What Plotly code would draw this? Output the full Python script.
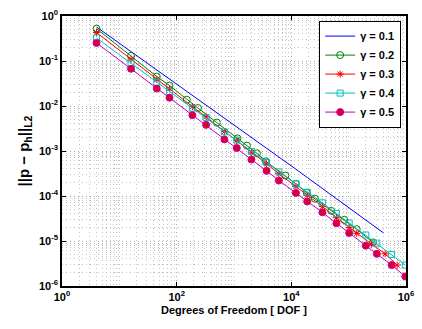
import plotly.graph_objects as go

# ---- data ----
dof_01 = [4, 16, 45, 75, 188, 326, 679, 1117, 2014, 3698, 6067, 12023, 18923, 34834, 61094, 102093, 199067, 404576]
err_01 = [0.570, 0.162, 0.0638, 0.0407, 0.01778, 0.01072, 5.52e-3, 3.51e-3, 2.04e-3, 1.169e-3, 7.41e-4,
          3.94e-4, 2.58e-4, 1.469e-4, 8.71e-5, 5.42e-5, 2.92e-5, 1.514e-5]

dof_02 = [4, 16, 45, 75, 150, 235, 502, 1148, 1683, 2512, 3597, 7889, 12023, 18535, 25704, 49659, 83753, 138038, 265461]
err_02 = [0.5236, 0.130, 0.0451, 0.0285, 0.0138, 9.02e-3, 4.27e-3, 1.905e-3, 1.318e-3, 8.91e-4, 5.89e-4,
          2.85e-4, 1.862e-4, 1.175e-4, 8.71e-5, 4.68e-5, 2.95e-5, 1.832e-5, 9.29e-6]

dof_03 = [4, 16, 45, 75, 188, 326, 679, 1117, 2014, 3698, 6067, 12023, 18923, 34834, 61094, 102093,
          138038, 251189, 432514, 701455]
err_03 = [0.4285, 0.1102, 0.0390, 0.0241, 9.66e-3, 5.79e-3, 2.70e-3, 1.722e-3, 9.40e-4, 5.19e-4, 3.12e-4,
          1.633e-4, 1.042e-4, 5.87e-5, 3.30e-5, 1.986e-5, 1.479e-5, 8.51e-6, 5.19e-6, 2.91e-6]

dof_04 = [4, 16, 45, 75, 188, 326, 679, 1117, 2014, 3698, 6067, 12023, 18923, 34834, 61094, 102093,
          199067, 310456, 561048, 972747]
err_04 = [0.325, 0.0897, 0.0335, 0.0212, 8.93e-3, 5.51e-3, 2.66e-3, 1.742e-3, 9.77e-4, 5.57e-4, 3.44e-4,
          1.858e-4, 1.213e-4, 7.06e-5, 4.09e-5, 2.52e-5, 1.361e-5, 8.97e-6, 5.04e-6, 2.91e-6]

dof_05 = [4, 16, 45, 75, 188, 326, 679, 1117, 2014, 3698, 6067, 12023, 18923, 34834, 61094, 102093,
          199067, 310456, 561048, 972747]
err_05 = [0.2523, 0.06714, 0.02438, 0.01528, 6.266e-3, 3.811e-3, 1.807e-3, 1.167e-3, 6.457e-4, 3.622e-4,
          2.203e-4, 1.172e-4, 7.568e-5, 4.335e-5, 2.472e-5, 1.503e-5, 7.87e-6, 5.19e-6, 2.91e-6, 1.63e-6]

names = ["γ = 0.1", "γ = 0.2", "γ = 0.3", "γ = 0.4", "γ = 0.5"]

x_tickvals = [1, 1e2, 1e4, 1e6]
x_ticktext = ["10<sup>0</sup>", "10<sup>2</sup>", "10<sup>4</sup>", "10<sup>6</sup>"]
y_tickvals = [1, 1e-1, 1e-2, 1e-3, 1e-4, 1e-5, 1e-6]
y_ticktext = ["10<sup>0</sup>", "10<sup>-1</sup>", "10<sup>-2</sup>", "10<sup>-3</sup>",
              "10<sup>-4</sup>", "10<sup>-5</sup>", "10<sup>-6</sup>"]

FONT = "Liberation Sans, Arial, sans-serif"

fig = go.Figure()
fig.add_trace(go.Scatter(x=dof_01, y=err_01, mode="lines", name=names[0],
                         line=dict(color="#0000FF", width=1)))
fig.add_trace(go.Scatter(x=dof_02, y=err_02, mode="lines+markers", name=names[1],
                         line=dict(color="#008000", width=1),
                         marker=dict(symbol="circle-open", size=7, color="#008000", line=dict(width=1))))
fig.add_trace(go.Scatter(x=dof_03, y=err_03, mode="lines+markers", name=names[2],
                         line=dict(color="#FF0000", width=1),
                         marker=dict(symbol="asterisk-open", size=6, color="#FF0000", line=dict(width=1, color="#FF0000"))))
fig.add_trace(go.Scatter(x=dof_04, y=err_04, mode="lines+markers", name=names[3],
                         line=dict(color="#00BFBF", width=1),
                         marker=dict(symbol="square-open", size=6, color="#00BFBF", line=dict(width=1))))
fig.add_trace(go.Scatter(x=dof_05, y=err_05, mode="lines+markers", name=names[4],
                         line=dict(color="#BF00BF", width=1),
                         marker=dict(symbol="circle", size=7, color="#DD0022", line=dict(width=1, color="#BF00BF"))))

minor_x = [k * 10 ** n for n in range(0, 6) for k in range(1, 10)] + [1e6]
minor_y = [k * 10.0 ** n for n in range(-6, 0) for k in range(1, 10)] + [1]

GRID = "#c4c4c4"
DASH = "1px,3px"

axis_common = dict(
    showline=True, linecolor="black", linewidth=1.5, mirror="allticks",
    ticks="inside", ticklen=4, tickcolor="black", tickwidth=1,
    showgrid=True, gridcolor="#a8a8a8", griddash=DASH, gridwidth=1,
    zeroline=False,
    tickfont=dict(family=FONT, size=11, color="black", weight="bold"),
)

fig.update_xaxes(type="log", range=[0, 6], tickvals=x_tickvals, ticktext=x_ticktext,
                 minor=dict(tickvals=minor_x, showgrid=True, gridcolor=GRID, griddash=DASH,
                            gridwidth=1, ticks=""),
                 title=dict(text="Degrees of Freedom [ DOF ]", standoff=4,
                            font=dict(family=FONT, size=11, color="black", weight="bold")),
                 **axis_common)
fig.update_yaxes(type="log", range=[-6, 0], tickvals=y_tickvals, ticktext=y_ticktext,
                 minor=dict(tickvals=minor_y, showgrid=True, gridcolor=GRID, griddash=DASH,
                            gridwidth=1, ticks=""),
                 title=dict(text="||p − p<sub>h</sub>||<sub>L2</sub>", standoff=6,
                            font=dict(family=FONT, size=15, color="black", weight="bold")),
                 **axis_common)

fig.update_layout(
    width=422, height=329,
    margin=dict(l=62, r=9, t=8, b=43),
    paper_bgcolor="white", plot_bgcolor="white",
    font=dict(family=FONT, color="black"),
    legend=dict(x=0.986, y=0.983, xanchor="right", yanchor="top",
                bgcolor="white", bordercolor="black", borderwidth=1,
                font=dict(family=FONT, size=11, color="black", weight="bold"),
                itemwidth=30, tracegroupgap=0),
)

fig.write_html("out.html")
